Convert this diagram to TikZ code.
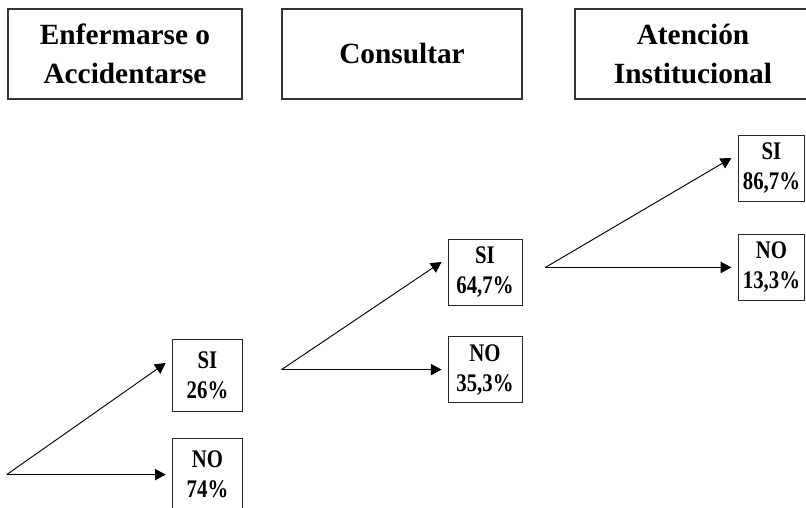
\documentclass[tikz,border=0pt]{standalone}
\usepackage{fontspec}
\setmainfont{Liberation Serif}
\newfontfamily\pctfont[FakeStretch=0.82]{Liberation Serif}
\usetikzlibrary{positioning,arrows.meta,calc}

\begin{document}
\begin{tikzpicture}[x=0.75pt,y=-0.75pt,head/.style={draw=black!80,line width=0.9pt,align=center,minimum height=67.5pt,font=\bfseries\fontsize{22}{29.5}\selectfont},pct/.style={draw=black!85,line width=0.7pt,align=center,inner sep=0pt,font=\pctfont\bfseries\fontsize{19}{22.5}\selectfont},arr/.style={-{Triangle[length=8pt,width=8.5pt]},line width=0.7pt}]
\useasboundingbox (0,0) rectangle (806,507);
\node[head,minimum width=175.5pt] (enferm) at (125,54) {Enfermarse o\\Accidentarse};
\node[head,minimum width=180pt] (consul) at (402,54) {Consultar};
\node[head,minimum width=177pt] (atenc) at (693,54) {Atención\\Institucional};
% enfermarse
\node[pct,minimum width=53pt,minimum height=54pt] (si1) at (207.5,375) {SI\\26\%};
\node[pct,minimum width=53pt,minimum height=54pt,below=20pt of si1] (no1) {NO\\74\%};
% consultar
\node[pct,minimum width=55.5pt,minimum height=49.5pt] (si2) at (485,272) {SI\\64,7\%};
\node[pct,minimum width=55.5pt,minimum height=49.5pt,below=23pt of si2] (no2) {NO\\35,3\%};
% atencion
\node[pct,minimum width=49pt,minimum height=49pt] (si3) at (771.5,168.5) {SI\\86,7\%};
\node[pct,minimum width=49pt,minimum height=49pt,below=24.5pt of si3] (no3) {NO\\13,3\%};
\coordinate (o1) at ($(no1.west)+(-165,0)$);
\coordinate (o2) at ($(no2.west)+(-166,0)$);
\coordinate (o3) at ($(no3.west)+(-193,0)$);
\draw[arr] (o1) -- ($(si1.west)+(-6,-12)$);
\draw[arr] (o1) -- ($(no1.west)+(-6,0)$);
\draw[arr] (o2) -- ($(si2.west)+(-6,-10)$);
\draw[arr] (o2) -- ($(no2.west)+(-6,0)$);
\draw[arr] (o3) -- ($(si3.west)+(-7,-10.5)$);
\draw[arr] (o3) -- ($(no3.west)+(-7,0)$);
\end{tikzpicture}
\end{document}
